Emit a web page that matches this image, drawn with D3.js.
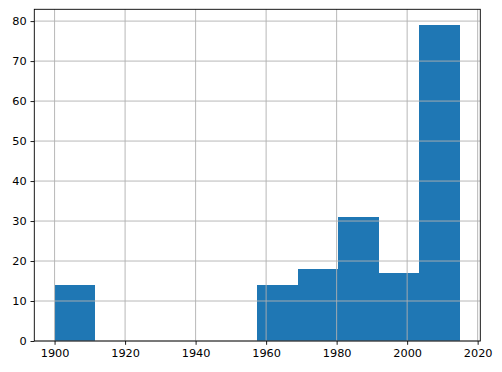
<!DOCTYPE html>
<html>
<head>
<meta charset="utf-8">
<script src="https://cdn.jsdelivr.net/npm/d3@7"></script>
<style>
  body { margin: 0; background: #fff; }
  text { font-family: "DejaVu Sans", sans-serif; }
</style>
</head>
<body>
<script>
// Histogram bin edges (years) and counts per bin
const binEdges = [1900, 1911.5, 1923, 1934.5, 1946, 1957.5, 1969, 1980.5, 1992, 2003.5, 2015];
const counts = [14, 0, 0, 0, 0, 14, 18, 31, 17, 79];
const xTicks = [1900, 1920, 1940, 1960, 1980, 2000, 2020];
const yTicks = [0, 10, 20, 30, 40, 50, 60, 70, 80];

const bins = counts.map((c, i) => ({x0: binEdges[i], x1: binEdges[i + 1], count: c}));

// Dimensions and margins
const margin = {top: 9.3, right: 21.7, bottom: 31, left: 34.3};
const width = 502 - margin.left - margin.right;
const height = 372 - margin.top - margin.bottom;

const svg = d3.select("body").append("svg")
    .attr("width", 502)
    .attr("height", 372)
    .append("g")
    .attr("transform", "translate(" + margin.left + "," + margin.top + ")");

// Scales, with matplotlib's 5% padding
const xMin = binEdges[0], xMax = binEdges[binEdges.length - 1];
const pad = (xMax - xMin) * 0.05;
const xScale = d3.scaleLinear()
    .domain([xMin - pad, xMax + pad])
    .range([0, width]);

const yScale = d3.scaleLinear()
    .domain([0, d3.max(counts) * 1.05])
    .range([height, 0]);

// Bars
svg.selectAll("rect.bar")
    .data(bins)
    .enter().append("rect")
    .attr("class", "bar")
    .attr("x", d => xScale(d.x0))
    .attr("y", d => yScale(d.count))
    .attr("width", d => xScale(d.x1) - xScale(d.x0))
    .attr("height", d => yScale(0) - yScale(d.count))
    .attr("fill", "#1f77b4")
    .attr("shape-rendering", "crispEdges");

// Grid lines (drawn over the bars, like matplotlib)
svg.append("g").selectAll("line")
    .data(xTicks)
    .enter().append("line")
    .attr("x1", d => xScale(d)).attr("x2", d => xScale(d))
    .attr("y1", 0).attr("y2", height)
    .attr("stroke", "#b0b0b0")
    .attr("stroke-width", 0.9);

svg.append("g").selectAll("line")
    .data(yTicks)
    .enter().append("line")
    .attr("x1", 0).attr("x2", width)
    .attr("y1", d => yScale(d)).attr("y2", d => yScale(d))
    .attr("stroke", "#b0b0b0")
    .attr("stroke-width", 0.9);

// Axes
const xAxis = svg.append("g")
    .attr("transform", "translate(0," + height + ")")
    .call(d3.axisBottom(xScale).tickValues(xTicks).tickFormat(d3.format("d"))
        .tickSize(3.8).tickSizeOuter(0).tickPadding(3.8));

const yAxis = svg.append("g")
    .call(d3.axisLeft(yScale).tickValues(yTicks).tickFormat(d3.format("d"))
        .tickSize(3.8).tickSizeOuter(0).tickPadding(3.8));

[xAxis, yAxis].forEach(a => {
    a.select(".domain").remove();
    a.selectAll(".tick line").attr("stroke", "#000").attr("stroke-width", 0.9);
    a.selectAll(".tick text").attr("fill", "#000").style("font-size", "11.3px")
        .style("font-family", "'DejaVu Sans', sans-serif");
});

// Frame (spines)
svg.append("rect")
    .attr("x", 0).attr("y", 0)
    .attr("width", width).attr("height", height)
    .attr("fill", "none")
    .attr("stroke", "#000")
    .attr("stroke-width", 0.9);
</script>
</body>
</html>
